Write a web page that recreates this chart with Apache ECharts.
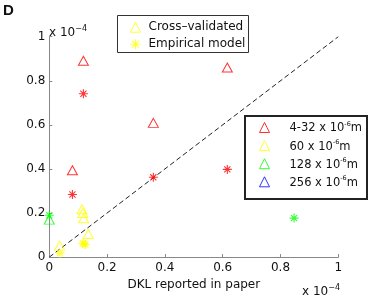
<!DOCTYPE html>
<html>
<head>
<meta charset="utf-8">
<script src="https://cdn.jsdelivr.net/npm/echarts@6/dist/echarts.min.js"></script>
<style>html,body{margin:0;padding:0;background:#fff;}#c{width:374px;height:296px;}</style>
</head>
<body>
<div id="c"></div>
<script>
// Values in units of 1e-4
const redTri = [[0.118, 0.891], [0.616, 0.860], [0.360, 0.609], [0.080, 0.394]];
const redStar = [[0.118, 0.741], [0.360, 0.362], [0.616, 0.398], [0.080, 0.284]];
const yellowTri = [[0.113, 0.217], [0.116, 0.200], [0.119, 0.176], [0.135, 0.105], [0.036, 0.052]];
const yellowStar = [[0.037, 0.018], [0.116, 0.063], [0.125, 0.057], [0.120, 0.060]];
const greenTri = [[0.0, 0.170]];
const greenStar = [[0.0, 0.190], [0.847, 0.177]];
const blueTri = [];
const diagonal = [[0, 0], [1, 1]];
const sizeLabels = ['4-32', '60', '128', '256'];
const methodLabels = ['Cross\u2013validated', 'Empirical model'];
const axisTicks = [0, 0.2, 0.4, 0.6, 0.8, 1];

const colors = ['#ff0000', '#ffff00', '#00ff00', '#0000ff'];
const starPath = 'path://M5,0L5,10M0,5L10,5M1.6,1.6L8.4,8.4M1.6,8.4L8.4,1.6';
const sizeNames = sizeLabels.map(s => s + ' x 10-6m');
const FONT = 'DejaVu Sans';
const FS = 12;

function triSeries(name, data, color) {
  return {
    name: name, type: 'scatter', data: data, symbol: 'triangle', symbolSize: [10, 9],
    itemStyle: { color: 'none', borderColor: color, borderWidth: 1 }, z: 3, silent: true
  };
}
function starSeries(name, data, color) {
  return {
    name: name, type: 'scatter', data: data, symbol: starPath, symbolSize: 9,
    itemStyle: { color: 'none', borderColor: color, borderWidth: 1.1 }, z: 3, silent: true
  };
}

const series = [
  { name: 'diag', type: 'line', data: diagonal, symbol: 'none', silent: true,
    lineStyle: { color: '#222', width: 1, type: [5, 3] }, z: 2 },
  triSeries(sizeNames[0], redTri, colors[0]),
  triSeries(sizeNames[1], yellowTri, colors[1]),
  triSeries(sizeNames[2], greenTri, colors[2]),
  triSeries(sizeNames[3], blueTri, colors[3]),
  starSeries('redStar', redStar, colors[0]),
  starSeries('yellowStar', yellowStar, colors[1]),
  starSeries('greenStar', greenStar, colors[2]),
  triSeries(methodLabels[0], [], colors[1]),
  starSeries(methodLabels[1], [], colors[1])
];

const chart = echarts.init(document.getElementById('c'), null, { renderer: 'canvas' });
const axisCommon = {
  type: 'value', min: 0, max: 1, interval: 0.2,
  axisLine: { show: true, lineStyle: { color: '#888', width: 1 } },
  axisTick: { show: true, inside: true, length: 3, lineStyle: { color: '#888' } },
  splitLine: { show: false },
  axisLabel: { color: '#111', fontFamily: FONT, fontSize: FS,
    formatter: v => String(axisTicks.find(t => Math.abs(t - v) < 1e-9) ?? v) }
};

const supRich = {
  a: { fontFamily: FONT, fontSize: FS, lineHeight: 14, verticalAlign: 'bottom', color: '#111' },
  b: { fontFamily: FONT, fontSize: 8, lineHeight: 14, verticalAlign: 'top', color: '#111' }
};

chart.setOption({
  animation: false,
  backgroundColor: '#fff',
  grid: { left: 49.3, right: 35.7, top: 36.7, bottom: 37.7 },
  xAxis: Object.assign({}, axisCommon, {
    name: 'DKL reported in paper', nameLocation: 'middle', nameGap: 18,
    nameTextStyle: { color: '#111', fontFamily: FONT, fontSize: FS },
    axisLabel: Object.assign({}, axisCommon.axisLabel, { margin: 5 })
  }),
  yAxis: Object.assign({}, axisCommon, {
    axisLabel: Object.assign({}, axisCommon.axisLabel, { margin: 4 })
  }),
  legend: [
    {
      orient: 'vertical', left: 128, top: 19.7, padding: 0,
      itemWidth: 10, itemHeight: 10, itemGap: 2.1,
      selectedMode: false,
      textStyle: { color: '#111', fontFamily: FONT, fontSize: FS, padding: [0, 0, 0, 3] },
      data: [
        { name: methodLabels[0], icon: 'triangle', itemStyle: { color: 'none', borderColor: colors[1], borderWidth: 1 } },
        { name: methodLabels[1], icon: starPath, itemStyle: { color: 'none', borderColor: colors[1], borderWidth: 1.1 } }
      ]
    },
    {
      orient: 'vertical', left: 257, top: 120, padding: 0,
      itemWidth: 10, itemHeight: 10, itemGap: 3.1,
      selectedMode: false,
      formatter: name => {
        const i = sizeNames.indexOf(name);
        return '{t|' + sizeLabels[i] + ' x 10}{s|-6}{t|m}';
      },
      textStyle: {
        color: '#111', fontFamily: FONT, fontSize: 11.5, padding: [0, 0, 0, 15],
        rich: {
          t: { fontFamily: FONT, fontSize: 11.5, color: '#111', lineHeight: 14, verticalAlign: 'bottom' },
          s: { fontFamily: FONT, fontSize: 6.5, color: '#111', lineHeight: 14, verticalAlign: 'top' }
        }
      },
      data: sizeNames.map((n, i) => ({ name: n, icon: 'triangle',
        itemStyle: { color: 'none', borderColor: colors[i], borderWidth: 1 } }))
    }
  ],
  graphic: [
    { type: 'rect', shape: { x: 117.5, y: 15.5, width: 131, height: 37 },
      style: { fill: null, stroke: '#333', lineWidth: 1 }, z: 1, silent: true },
    { type: 'rect', shape: { x: 245, y: 116, width: 122, height: 83 },
      style: { fill: null, stroke: '#222', lineWidth: 2 }, z: 1, silent: true },
    { type: 'text', left: 3, top: 3, silent: true,
      style: { text: 'D', fontFamily: 'Liberation Sans', fontWeight: 'bold', fontSize: 15, fill: '#111' } },
    { type: 'text', left: 49, top: 25, silent: true,
      style: { text: '{a|x 10}{b|\u22124}', fill: '#111', rich: supRich } },
    { type: 'text', left: 302, top: 284, silent: true,
      style: { text: '{a|x 10}{b|\u22124}', fill: '#111', rich: supRich } }
  ],
  series: series
});
</script>
</body>
</html>
